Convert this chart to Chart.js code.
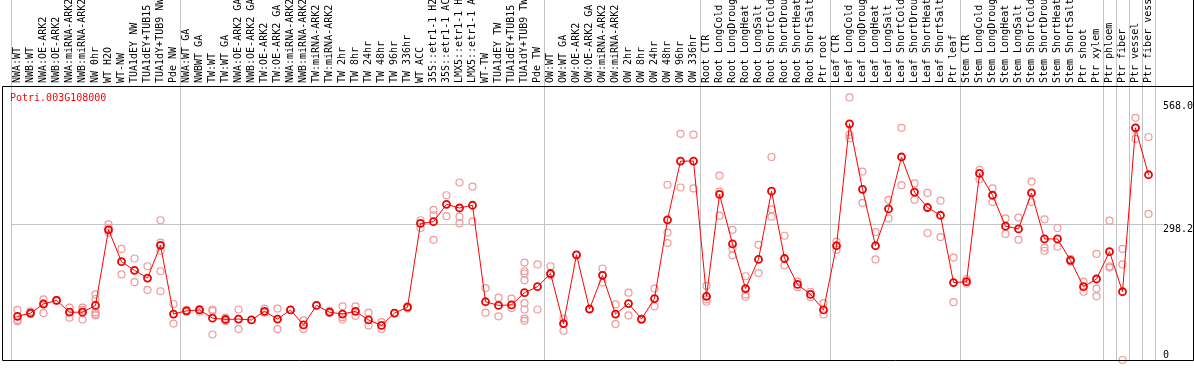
<!DOCTYPE html>
<html>
<head>
<meta charset="utf-8">
<script src="https://cdn.jsdelivr.net/npm/chart.js@4/dist/chart.umd.min.js"></script>
<style>
  html, body { margin: 0; padding: 0; background: #fff; }
  #wrap { width: 1194px; height: 370px; }
</style>
</head>
<body>
<div id="wrap"><canvas id="c" width="1194" height="370"></canvas></div>
<script>
const geneName = 'Potri.003G108000';

const categories = [
  'NWA:WT', 'NWB:WT', 'NWA:OE-ARK2', 'NWB:OE-ARK2', 'NWA:miRNA-ARK2', 'NWB:miRNA-ARK2',
  'NW 0hr', 'WT H2O', 'WT-NW', 'TUA1dEY NW', 'TUA1dEY+TUB15 NW', 'TUA1dY+TUB9 NW', 'Pde NW',
  'NWA:WT GA', 'NWBWT GA', 'TW:WT', 'TW:WT GA', 'NWA:OE-ARK2 GA', 'NWB:OE-ARK2 GA',
  'TW:OE-ARK2', 'TW:OE-ARK2 GA', 'NWA:miRNA-ARK2', 'NWB:miRNA-ARK2', 'TW:miRNA-ARK2',
  'TW:miRNA-ARK2', 'TW 2hr', 'TW 8hr', 'TW 24hr', 'TW 48hr', 'TW 96hr', 'TW 336hr',
  'WT ACC', '35S::etr1-1 H2O', '35S::etr1-1 ACC', 'LMX5::etr1-1 H2O', 'LMX5::etr1-1 ACC',
  'WT-TW', 'TUA1dEY TW', 'TUA1dEY+TUB15 TW', 'TUA1dY+TUB9 TW', 'Pde TW',
  'OW:WT', 'OW:WT GA', 'OW:OE-ARK2', 'OW:OE-ARK2 GA', 'OW:miRNA-ARK2', 'OW:miRNA-ARK2',
  'OW 2hr', 'OW 8hr', 'OW 24hr', 'OW 48hr', 'OW 96hr', 'OW 336hr',
  'Root CTR', 'Root LongCold', 'Root LongDrought', 'Root LongHeat', 'Root LongSalt',
  'Root ShortCold', 'Root ShortDrought', 'Root ShortHeat', 'Root ShortSalt', 'Ptr root',
  'Leaf CTR', 'Leaf LongCold', 'Leaf LongDrought', 'Leaf LongHeat', 'Leaf LongSalt',
  'Leaf ShortCold', 'Leaf ShortDrought', 'Leaf ShortHeat', 'Leaf ShortSalt', 'Ptr leaf',
  'Stem CTR', 'Stem LongCold', 'Stem LongDrought', 'Stem LongHeat', 'Stem LongSalt',
  'Stem ShortCold', 'Stem ShortDrought', 'Stem ShortHeat', 'Stem ShortSalt',
  'Ptr shoot', 'Ptr xylem', 'Ptr phloem', 'Ptr fiber', 'Ptr vessel', 'Ptr fiber vessel'
];

// group separators: index of first category of each block (and the end)
const groupStarts = [0, 13, 41, 53, 63, 73, 84, 85, 86, 87, 88];

const meanValues = [
  96, 103, 123, 131, 105, 105, 120, 286, 216, 197, 180, 252, 101,
  108, 110, 92, 89, 90, 88, 107, 90, 110, 77, 120, 105, 101, 107, 88, 76, 103, 116,
  300, 304, 342, 334, 340, 128, 120, 121, 148, 161,
  190, 80, 231, 112, 186, 101, 124, 90, 135, 308, 437, 437,
  140, 364, 255, 157, 221, 371, 223, 166, 144, 110,
  251, 519, 375, 251, 332, 446, 369, 335, 318, 170,
  172, 410, 362, 294, 288, 367, 266, 266, 219,
  161, 178, 238, 150, 510, 407
];

const replicateValues = [
  [110, 88, 85], [107, 101, 104], [133, 103, 124], [132, 130], [115, 93, 106], [115, 110, 89],
  [144, 134, 105, 98, 101], [298, 280, 290], [244, 188], [223, 171], [206, 154],
  [307, 258, 240, 195, 151], [123, 80],
  [106, 110], [106, 112], [111, 108, 56], [93, 85], [111, 68], [88], [113, 104], [113, 68],
  [110], [87, 68], [120], [108, 103], [118, 94, 89], [118, 97], [104, 76], [83, 68], [103], [118, 113],
  [307, 290], [330, 318, 264], [362, 316], [390, 315, 300], [381, 304],
  [158, 104], [137, 96], [135, 114], [214, 195, 190, 175, 125, 111, 91, 86], [210, 111],
  [206, 186], [91, 64], [231], [112], [201, 170], [122, 79], [148, 98], [88], [157, 118],
  [385, 280, 257], [497, 379], [495, 377],
  [163, 133, 128], [405, 370, 317], [286, 245, 230], [184, 144, 139], [253, 191],
  [446, 331, 315], [273, 208], [172, 160], [150, 138], [125, 100],
  [260, 242], [577, 487, 495], [414, 345], [281, 221], [352, 311], [510, 384], [388, 352],
  [367, 279], [350, 270], [225, 127],
  [178, 168], [418, 397], [377, 347], [311, 277], [313, 264], [392, 347], [309, 247, 240],
  [290, 249], [222, 216],
  [172, 150], [233, 157, 140], [306, 206, 203], [244, 210, 0], [532, 486, 510], [490, 321]
];

const yTickValues = [0, 298.2, 568];
const yMax = 602;

const MONO = '"DejaVu Sans Mono", "Liberation Mono", monospace';
const GRID = '#c4c4c4';

// one dataset per replicate slot, aligned with the categories
const maxReps = Math.max(...replicateValues.map(r => r.length));
const replicateDatasets = [];
for (let r = 0; r < maxReps; r++) {
  replicateDatasets.push({
    label: 'replicate ' + (r + 1),
    data: replicateValues.map(vals => (r < vals.length ? vals[r] : null)),
    showLine: false,
    pointRadius: 3.5,
    pointBorderWidth: 1.2,
    pointBorderColor: '#ef9a9a',
    pointBackgroundColor: 'rgba(0,0,0,0)',
    clip: false,
    order: 1
  });
}

const framePlugin = {
  id: 'frame',
  afterDraw(chart) {
    const ctx = chart.ctx;
    const a = chart.chartArea;
    ctx.save();
    ctx.strokeStyle = '#000';
    ctx.lineWidth = 1;
    ctx.beginPath();
    ctx.moveTo(2.5, a.top + 0.5);
    ctx.lineTo(2.5, a.bottom + 0.5);
    ctx.lineTo(chart.width - 0.5, a.bottom + 0.5);
    ctx.lineTo(chart.width - 0.5, 0);
    ctx.moveTo(chart.width - 0.5, a.top + 0.5);
    ctx.lineTo(2.5, a.top + 0.5);
    ctx.stroke();
    ctx.fillStyle = '#ff0000';
    ctx.font = '10px ' + MONO;
    ctx.textBaseline = 'middle';
    ctx.textAlign = 'left';
    ctx.fillText(geneName, 10, a.top + 12);
    ctx.restore();
  }
};

new Chart(document.getElementById('c'), {
  type: 'line',
  data: {
    labels: categories,
    datasets: [
      {
        label: geneName,
        data: meanValues,
        borderColor: '#ff0000',
        borderWidth: 1,
        tension: 0,
        pointRadius: 3.5,
        pointBorderWidth: 1.8,
        pointBorderColor: '#ee0000',
        pointBackgroundColor: 'rgba(0,0,0,0)',
        clip: false,
        order: 0
      },
      ...replicateDatasets
    ]
  },
  options: {
    responsive: false,
    animation: false,
    devicePixelRatio: 1,
    layout: { padding: { left: 11, right: 0, top: 0, bottom: 2 } },
    plugins: {
      legend: { display: false },
      tooltip: { enabled: false },
      title: { display: false }
    },
    scales: {
      x: {
        type: 'category',
        position: 'top',
        offset: true,
        afterFit(scale) { scale.height = 86; },
        grid: {
          offset: true,
          drawTicks: true,
          tickLength: 86,
          lineWidth: 1,
          color(ctx) {
            if (ctx.tick === undefined) return GRID;
            return groupStarts.includes(ctx.index) ? GRID : 'rgba(0,0,0,0)';
          }
        },
        border: { display: true, color: '#000', width: 1 },
        ticks: {
          autoSkip: false,
          maxRotation: 90,
          minRotation: 90,
          padding: -83,
          labelOffset: 12,
          color: '#000',
          font: { family: MONO, size: 10 }
        }
      },
      y: {
        type: 'linear',
        position: 'right',
        min: 0,
        max: yMax,
        afterFit(scale) { scale.width = 39; },
        afterBuildTicks(scale) { scale.ticks = yTickValues.map(v => ({ value: v })); },
        border: { display: false },
        grid: {
          drawTicks: true,
          tickLength: 8,
          color(ctx) { return (ctx.tick && ctx.tick.value === 298.2) ? GRID : 'rgba(0,0,0,0)'; }
        },
        ticks: {
          padding: 0,
          color: '#000',
          font: { family: MONO, size: 10, lineHeight: 1 },
          callback(value) {
            return value === 0 ? ['0', ''] : ['', value.toFixed(1)];
          }
        }
      }
    }
  },
  plugins: [framePlugin]
});
</script>
</body>
</html>
